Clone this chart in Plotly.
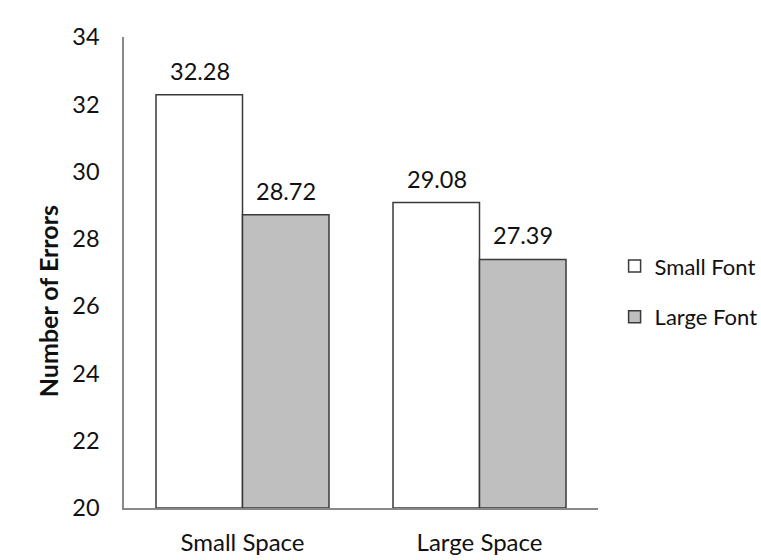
import plotly.graph_objects as go

categories = ["Small Space", "Large Space"]
series_names = ["Small Font", "Large Font"]
small_font = [32.28, 29.08]
large_font = [28.72, 27.39]
y_ticks = [20, 22, 24, 26, 28, 30, 32, 34]
y_base = 20
y_title = "Number of Errors"

FONT = "Lato"
TXT = "#111111"
fills = ["#ffffff", "#bfbfbf"]

fig = go.Figure()
for i, (name, vals) in enumerate(zip(series_names, [small_font, large_font])):
    fig.add_trace(go.Bar(
        x=categories, y=[v - y_base for v in vals], base=y_base, name=name, legendgroup=name,
        marker=dict(color=fills[i], line=dict(color="#3a3a3a", width=1.5)),
    ))

# data labels above bars
for i, vals in enumerate([small_font, large_font]):
    shift = -43 if i == 0 else 43
    for c, v in zip(categories, vals):
        fig.add_annotation(x=c, y=v, text=f"{v:.2f}", showarrow=False,
                           xref="x", yref="y", yanchor="bottom", xshift=shift, yshift=8,
                           font=dict(family=FONT, size=23.5, color=TXT))

# y-axis title (placed as in the reference, slightly below centre)
fig.add_annotation(text=f"<b>{y_title}</b>", xref="paper", yref="paper",
                   x=-0.16, y=0.4395, xanchor="center", yanchor="middle",
                   textangle=-90, showarrow=False,
                   font=dict(family=FONT, size=25, color=TXT))

fig.update_layout(
    width=761, height=560,
    margin=dict(l=124, r=163, t=37, b=52, autoexpand=False),
    paper_bgcolor="white", plot_bgcolor="white",
    barmode="group", bargap=0.27, bargroupgap=0,
    font=dict(family=FONT, size=23.5, color=TXT),
    showlegend=True,
    legend=dict(x=1.035, y=0.459, xanchor="left", yanchor="middle",
                traceorder="grouped", tracegroupgap=19,
                font=dict(family=FONT, size=22, color=TXT),
                bgcolor="rgba(0,0,0,0)"),
    xaxis=dict(showline=True, linecolor="#888888", linewidth=1.5, ticks="",
               showgrid=False, tickfont=dict(family=FONT, size=24, color=TXT),
               ticklabelstandoff=12),
    yaxis=dict(range=[20, 34], tickvals=y_ticks, showline=True, linecolor="#888888",
               linewidth=1.5, ticks="", showgrid=False, zeroline=False,
               tickfont=dict(family=FONT, size=23.5, color=TXT), ticklabelstandoff=18),
)
fig.write_html("out.html")
